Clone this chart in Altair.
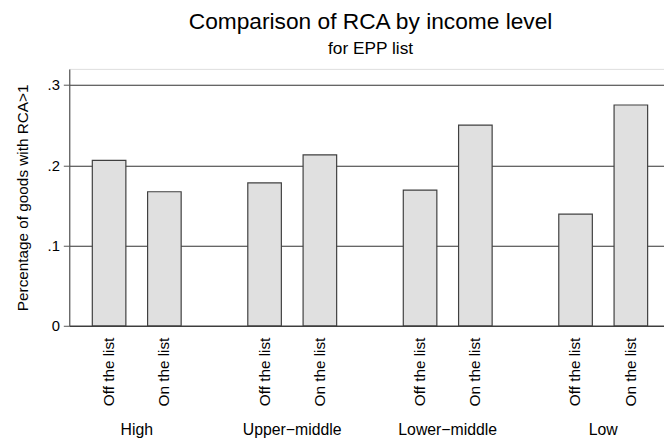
import altair as alt
import pandas as pd

groups = ["High", "Upper−middle", "Lower−middle", "Low"]
lists = ["Off the list", "On the list"]
off_values = [0.206, 0.178, 0.169, 0.139]
on_values = [0.167, 0.213, 0.250, 0.275]
y_ticks = [0, 0.1, 0.2, 0.3]

rows = []
for g, a, b in zip(groups, off_values, on_values):
    rows.append({"group": g, "list": lists[0], "value": a})
    rows.append({"group": g, "list": lists[1], "value": b})
df = pd.DataFrame(rows)

FONT = "Liberation Sans"
W, H = 602, 260

x_enc = alt.X(
    "group:N",
    sort=groups,
    scale=alt.Scale(paddingInner=0.218, paddingOuter=0.0215, align=1),
    axis=alt.Axis(
        title=None, ticks=False, labelAngle=0, labelFontSize=16, labelFont=FONT,
        labelColor="black", labelPadding=97, labelBaseline="top",
        domainColor="#333", domainWidth=1.2,
    ),
)
xo_enc = alt.XOffset(
    "list:N", sort=lists,
    scale=alt.Scale(paddingInner=0.393, paddingOuter=0.296),
)

bars = alt.Chart(df).mark_bar(
    fill="#e0e0e0", stroke="#404040", strokeWidth=1.2
).encode(
    x=x_enc,
    xOffset=xo_enc,
    y=alt.Y(
        "value:Q",
        scale=alt.Scale(domain=[0, 0.32], nice=False),
        axis=alt.Axis(
            title="Percentage of goods with RCA>1", titleFont=FONT, titleFontSize=15.5,
            titleFontWeight="normal", titleColor="black", titlePadding=17,
            values=y_ticks, labelFont=FONT, labelFontSize=15, labelColor="black",
            labelExpr="datum.value == 0 ? '0' : replace(format(datum.value, '.1f'), '0.', '.')",
            tickSize=6, tickColor="#555", labelPadding=4,
            domainColor="#555", domainWidth=1.2,
            grid=True, gridColor="#333", gridWidth=1.1,
        ),
    ),
)

labels = alt.Chart(df).mark_text(
    angle=270, align="right", baseline="middle", fontSize=15.5, font=FONT, color="black"
).encode(
    x=x_enc,
    xOffset=xo_enc,
    y=alt.value(H + 12),
    text="list:N",
)

chart = alt.layer(bars, labels).properties(
    width=W,
    height=H,
    title=alt.TitleParams(
        text="Comparison of RCA by income level",
        subtitle="for EPP list",
        font=FONT, fontSize=23, fontWeight="normal", color="black",
        subtitleFont=FONT, subtitleFontSize=17.5, subtitleColor="black",
        subtitlePadding=6, offset=12, anchor="middle", dx=4,
    ),
    autosize=alt.AutoSizeParams(type="none"),
    padding={"left": 62, "top": 59, "right": 0, "bottom": 116},
).configure_view(stroke=None).configure(background="white")

chart.save("out.html", embed_options={"renderer": "svg", "actions": False})
